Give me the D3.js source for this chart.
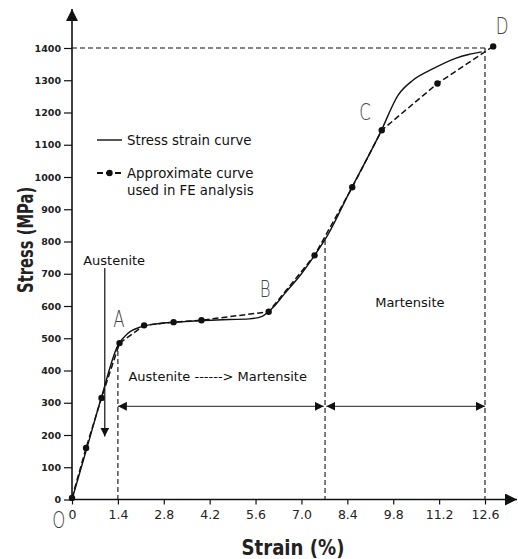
<!DOCTYPE html>
<html>
<head>
<meta charset="utf-8">
<script src="https://cdn.jsdelivr.net/npm/d3@7"></script>
<style>
  body { margin: 0; background: #fff; }
  svg { display: block; font-family: "DejaVu Sans", Verdana, sans-serif; }
</style>
</head>
<body>
<div id="chart"></div>
<script>
// approximate (FE) curve, with markers
const feStrain = [0, 0.43, 0.9, 1.45, 2.2, 3.1, 3.95, 6.0, 7.4, 8.55, 9.45, 11.15, 12.85];
const feStress = [5, 160, 315, 485, 540, 550, 556, 582, 757, 968, 1145, 1290, 1405];

// measured stress strain curve
const curveStrain = [0, 0.45, 0.9, 1.4, 1.7, 2.1, 2.6, 3.2, 4.0, 4.8, 5.4, 5.8, 6.1, 6.5, 7.0, 7.4, 7.8, 8.5, 9.4, 9.95, 10.4, 11.0, 11.7, 12.1, 12.5];
const curveStress = [0, 158, 318, 478, 515, 535, 545, 550, 555, 558, 560, 568, 592, 640, 700, 757, 820, 960, 1136, 1254, 1300, 1335, 1368, 1380, 1388];

const xTicks = [0, 1.4, 2.8, 4.2, 5.6, 7.0, 8.4, 9.8, 11.2, 12.6];
const xTickLabels = ["0", "1.4", "2.8", "4.2", "5.6", "7.0", "8.4", "9.8", "11.2", "12.6"];
const yTicks = [0, 100, 200, 300, 400, 500, 600, 700, 800, 900, 1000, 1100, 1200, 1300, 1400];

const width = 518, height = 559;
const margin = { top: 48, left: 72, bottom: 60, right: 33 };

const svg = d3.select("#chart").append("svg")
    .attr("width", width)
    .attr("height", height);

const x = d3.scaleLinear().domain([0, 12.6]).range([margin.left, width - margin.right]);
const y = d3.scaleLinear().domain([0, 1400]).range([height - margin.bottom + 0.5, margin.top]);

// arrow markers
const defs = svg.append("defs");
function arrow(id, size) {
    defs.append("marker")
        .attr("id", id)
        .attr("viewBox", "0 0 10 10")
        .attr("refX", 10).attr("refY", 5)
        .attr("markerWidth", size).attr("markerHeight", size)
        .attr("markerUnits", "userSpaceOnUse")
        .attr("orient", "auto-start-reverse")
        .append("path")
        .attr("d", "M0,0 L10,5 L0,10 z")
        .attr("fill", "#111");
}
arrow("head", 9);
arrow("axhead", 12);

// axes
const x0 = x(0), y0 = y(0);
svg.append("line")
    .attr("x1", x0).attr("y1", y0).attr("x2", 517).attr("y2", y0)
    .attr("stroke", "#111").attr("stroke-width", 1.6)
    .attr("marker-end", "url(#axhead)");
svg.append("line")
    .attr("x1", x0).attr("y1", y0).attr("x2", x0).attr("y2", 9)
    .attr("stroke", "#111").attr("stroke-width", 1.6)
    .attr("marker-end", "url(#axhead)");

const yAxis = d3.axisLeft(y).tickValues(yTicks).tickSize(8).tickPadding(3).tickFormat(d3.format("d"));
svg.append("g")
    .attr("transform", `translate(${x0},0)`)
    .call(yAxis)
    .call(g => g.select(".domain").remove())
    .call(g => g.selectAll("line").attr("stroke", "#111").attr("stroke-width", 1.2))
    .call(g => g.selectAll("text").attr("font-size", 9.5).attr("font-weight", "bold").attr("fill", "#222")
        .attr("font-family", "DejaVu Sans"));

const xAxis = d3.axisBottom(x).tickValues(xTicks).tickSize(5).tickPadding(6)
    .tickFormat((d, i) => xTickLabels[i]);
svg.append("g")
    .attr("transform", `translate(0,${y0})`)
    .call(xAxis)
    .call(g => g.select(".domain").remove())
    .call(g => g.selectAll("line").attr("stroke", "#111").attr("stroke-width", 1.2))
    .call(g => g.selectAll("text").attr("font-size", 12.5).attr("fill", "#222")
        .attr("font-family", "DejaVu Sans"));

// axis titles
svg.append("text")
    .attr("x", 293).attr("y", 555)
    .attr("text-anchor", "middle")
    .attr("font-size", 21).attr("font-weight", "bold").attr("fill", "#222")
    .attr("textLength", 103).attr("lengthAdjust", "spacingAndGlyphs")
    .text("Strain (%)");
svg.append("text")
    .attr("transform", `translate(33,${y(805)}) rotate(-90)`)
    .attr("text-anchor", "middle")
    .attr("font-size", 21).attr("font-weight", "bold").attr("fill", "#222")
    .attr("textLength", 106).attr("lengthAdjust", "spacingAndGlyphs")
    .text("Stress (MPa)");

// reference dashed lines
const dashed = (xa, ya, xb, yb) => svg.append("line")
    .attr("x1", x(xa)).attr("y1", y(ya)).attr("x2", x(xb)).attr("y2", y(yb))
    .attr("stroke", "#111").attr("stroke-width", 1.1).attr("stroke-dasharray", "5,3");
dashed(0, 1400, 12.6, 1400);
dashed(12.6, 1400, 12.6, 0);
dashed(1.4, 485, 1.4, 0);
dashed(7.72, 805, 7.72, 0);

// phase range arrows
const rangeArrow = (xa, xb, s) => svg.append("line")
    .attr("x1", x(xa)).attr("y1", y(s)).attr("x2", x(xb)).attr("y2", y(s))
    .attr("stroke", "#222").attr("stroke-width", 1)
    .attr("marker-start", "url(#head)").attr("marker-end", "url(#head)");
rangeArrow(1.4, 7.68, 289);
rangeArrow(7.76, 12.6, 289);

// Austenite arrow
svg.append("line")
    .attr("x1", x(1.0)).attr("y1", y(718)).attr("x2", x(1.0)).attr("y2", y(195))
    .attr("stroke", "#111").attr("stroke-width", 1.2)
    .attr("marker-end", "url(#head)");

// curves
const solid = d3.line()
    .x((d, i) => x(curveStrain[i]))
    .y(d => y(d))
    .curve(d3.curveMonotoneX);
svg.append("path")
    .attr("d", solid(curveStress))
    .attr("fill", "none").attr("stroke", "#111").attr("stroke-width", 1.4);

const approx = d3.line()
    .x((d, i) => x(feStrain[i]))
    .y(d => y(d));
svg.append("path")
    .attr("d", approx(feStress))
    .attr("fill", "none").attr("stroke", "#111").attr("stroke-width", 1.5)
    .attr("stroke-dasharray", "6,3");

svg.selectAll("circle.fe")
    .data(feStress)
    .join("circle")
    .attr("class", "fe")
    .attr("cx", (d, i) => x(feStrain[i]))
    .attr("cy", d => y(d))
    .attr("r", 3.2)
    .attr("fill", "#111");

// point letters (thin, narrow)
const letter = (t, sx, sy) => svg.append("text")
    .attr("transform", `translate(${x(sx)},${y(sy)}) scale(0.72,1)`)
    .attr("text-anchor", "middle")
    .attr("font-size", 23).attr("font-weight", 200).attr("fill", "#444")
    .text(t);
letter("A", 1.43, 535);
letter("B", 5.89, 629);
letter("C", 8.94, 1178);
letter("D", 13.12, 1442);
letter("O", -0.4, -88);

// labels
const label = (t, sx, sy, anchor) => svg.append("text")
    .attr("x", x(sx)).attr("y", y(sy))
    .attr("text-anchor", anchor || "start")
    .attr("font-size", 13).attr("fill", "#111")
    .text(t);
label("Austenite", 0.34, 728);
label("Austenite ------> Martensite", 1.72, 366);
label("Martensite", 9.25, 596);

// legend
const lx1 = 97, lx2 = 122;
svg.append("line").attr("x1", lx1).attr("x2", lx2).attr("y1", 140).attr("y2", 140)
    .attr("stroke", "#111").attr("stroke-width", 1.4);
svg.append("text").attr("x", 127).attr("y", 145).attr("font-size", 13.3).attr("fill", "#111")
    .text("Stress strain curve");
svg.append("line").attr("x1", lx1).attr("x2", lx2).attr("y1", 173).attr("y2", 173)
    .attr("stroke", "#111").attr("stroke-width", 2).attr("stroke-dasharray", "6,3");
svg.append("circle").attr("cx", (lx1 + lx2) / 2).attr("cy", 173).attr("r", 3.2).attr("fill", "#111");
svg.append("text").attr("x", 127).attr("y", 178).attr("font-size", 13.3).attr("fill", "#111")
    .text("Approximate curve");
svg.append("text").attr("x", 127).attr("y", 195).attr("font-size", 13.3).attr("fill", "#111")
    .text("used in FE analysis");
</script>
</body>
</html>
